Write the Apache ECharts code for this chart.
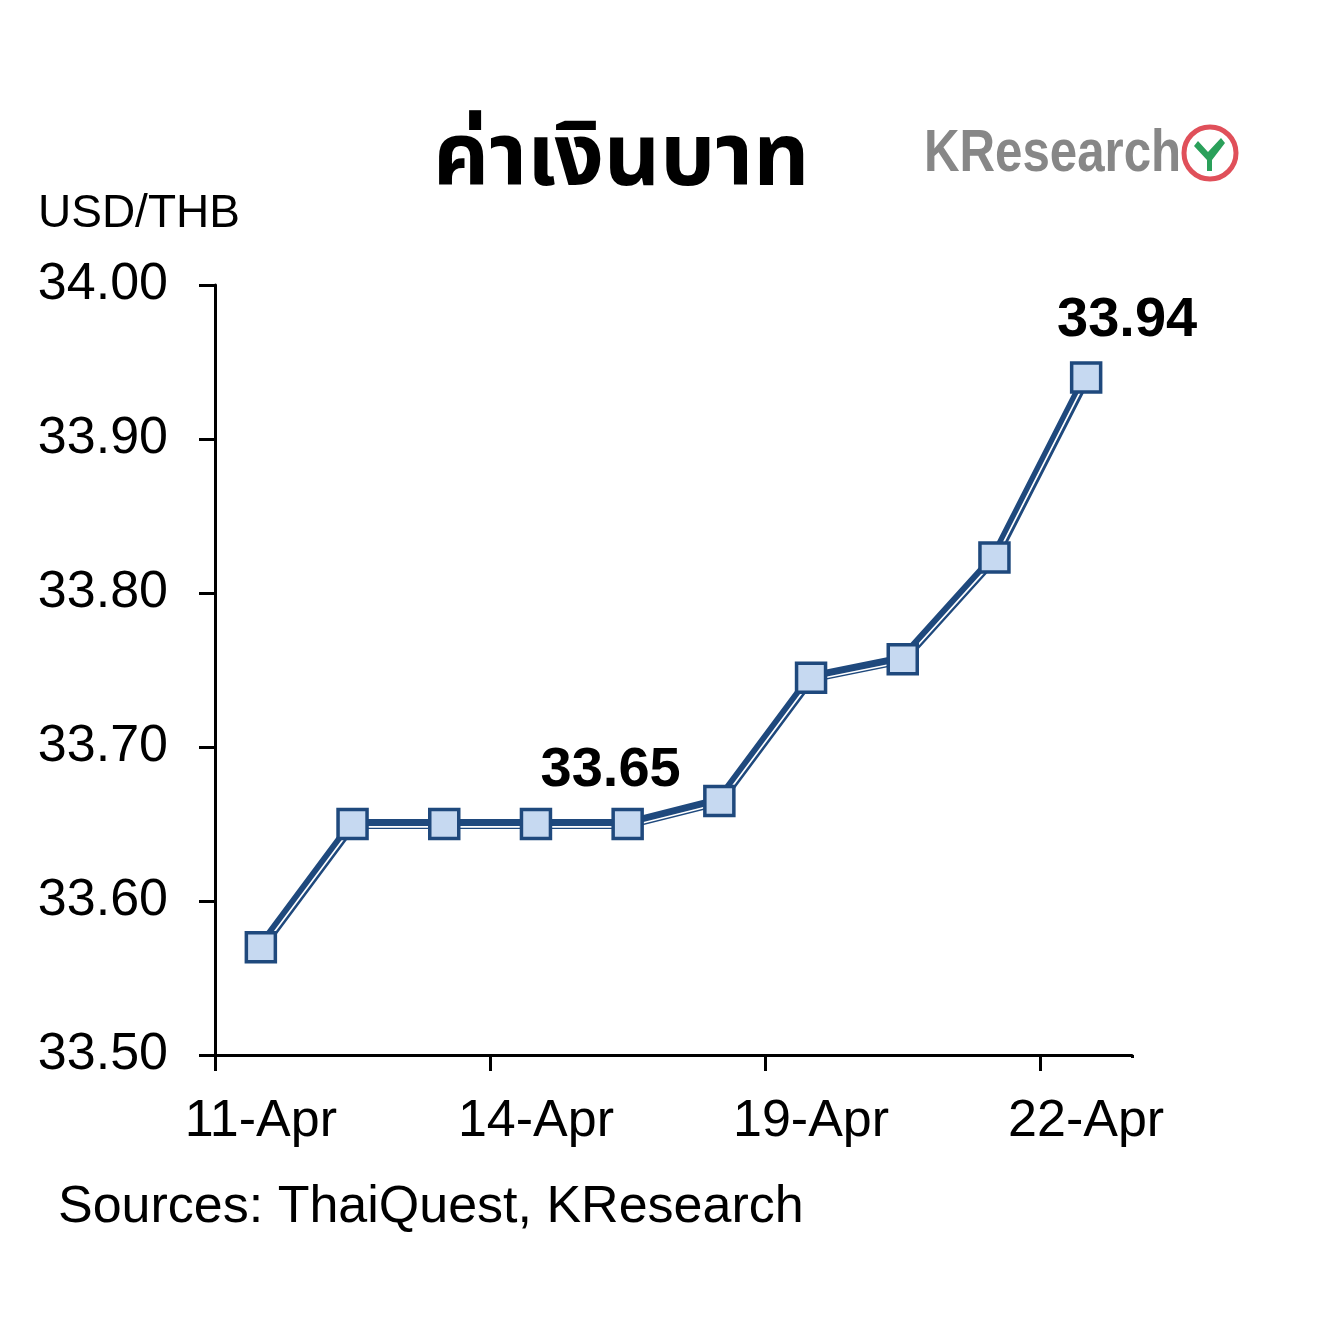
<!DOCTYPE html>
<html>
<head>
<meta charset="utf-8">
<script src="https://cdn.jsdelivr.net/npm/echarts@6/dist/echarts.min.js"></script>
<style>
html,body{margin:0;padding:0;background:#fff;}
#chart{width:1343px;height:1320px;}
</style>
</head>
<body>
<div id="chart"></div>
<script>
var categories = ['11-Apr','12-Apr','13-Apr','14-Apr','15-Apr','18-Apr','19-Apr','20-Apr','21-Apr','22-Apr'];
var rates = [33.57, 33.65, 33.65, 33.65, 33.65, 33.665, 33.745, 33.757, 33.823, 33.94];
var yTicks = { min: 33.5, max: 34.0, interval: 0.1 };
var labelled = { 4: '33.65', 9: '33.94' };
var titleText = 'ค่าเงินบาท';
var unitText = 'USD/THB';
var sourceText = 'Sources: ThaiQuest, KResearch';

var font = 'Liberation Sans, Arial, sans-serif';
var dark = '#1f497d';
var shift = 2.8 * (yTicks.max - yTicks.min) / 770;

var chart = echarts.init(document.getElementById('chart'), null, {renderer: 'canvas'});
var labelData = rates.map(function (v, i) {
  if (!labelled[i]) return v;
  var isLast = i === rates.length - 1;
  return {
    value: v,
    label: {
      show: true,
      formatter: labelled[i],
      position: 'top',
      offset: isLast ? [41, -8] : [-17, -4],
      fontSize: 56, fontWeight: 'bold', color: '#000', fontFamily: font
    }
  };
});

chart.setOption({
  animation: false,
  backgroundColor: '#fff',
  grid: { left: 215, right: 211, top: 285, bottom: 265 },
  xAxis: {
    type: 'category',
    data: categories,
    boundaryGap: true,
    axisLine: { lineStyle: { color: '#000', width: 3 } },
    axisTick: { show: true, interval: 2, length: 16, lineStyle: { color: '#000', width: 3 } },
    axisLabel: { interval: 2, color: '#000', fontSize: 52, fontFamily: font, margin: 41 }
  },
  yAxis: [{
    type: 'value',
    min: yTicks.min, max: yTicks.max, interval: yTicks.interval,
    axisLine: { show: true, lineStyle: { color: '#000', width: 3 } },
    axisTick: { show: true, length: 16, lineStyle: { color: '#000', width: 3 } },
    splitLine: { show: false },
    axisLabel: { color: '#000', fontSize: 52, fontFamily: font, margin: 47,
      formatter: function (v) { return v.toFixed(2); } }
  }, {
    type: 'value',
    min: yTicks.min + shift, max: yTicks.max + shift,
    show: false, splitLine: { show: false }
  }],
  graphic: [
    { type: 'text', left: 433, top: 124, style: { text: titleText,
      font: 'bold 87px "Noto Sans Thai", "Noto Sans", "Liberation Sans", sans-serif', fill: '#000' } },
    { type: 'text', left: 38, top: 191, style: { text: unitText, font: '46px ' + font, fill: '#000' } },
    { type: 'text', left: 58, top: 1182, style: { text: sourceText, font: '52px ' + font, fill: '#000' } },
    { type: 'text', x: 924, y: 124, scaleX: 0.82, style: { text: 'KResearch', font: 'bold 60px "Liberation Sans", sans-serif', fill: '#7a7a7a', opacity: 0.9 } },
    { type: 'circle', shape: { cx: 1210, cy: 153, r: 26 }, style: { fill: '#fff', stroke: '#e0505a', lineWidth: 5 } },
    { type: 'polygon', shape: { points: [[1198,141],[1208,152],[1221,138],[1225,143],[1212,160],[1212,171],[1207,171],[1207,160],[1194,146]] }, style: { fill: '#2aa05a' } },
    { type: 'rect', shape: { x: 1128, y: 1058, width: 10, height: 18 }, style: { fill: '#fff' }, z: 100 }
  ],
  series: [{
    type: 'line', data: rates, yAxisIndex: 0, symbol: 'none',
    lineStyle: { color: dark, width: 10 }, z: 2
  }, {
    type: 'line', data: rates, yAxisIndex: 1, symbol: 'none',
    lineStyle: { color: '#fff', width: 1.7 }, z: 3
  }, {
    type: 'line', data: labelData, yAxisIndex: 0,
    symbol: 'rect', symbolSize: 29, showSymbol: true,
    lineStyle: { opacity: 0, width: 0 },
    itemStyle: { color: '#c6d9f1', borderColor: dark, borderWidth: 3.5 },
    z: 4
  }]
});
</script>
</body>
</html>
